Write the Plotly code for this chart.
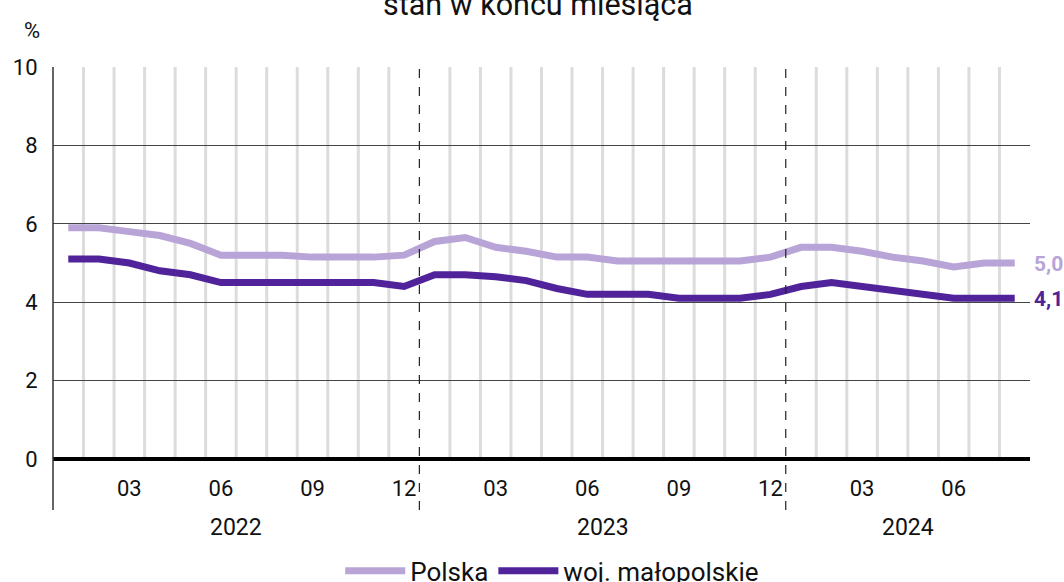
import plotly.graph_objects as go

months = ["2022-01","2022-02","2022-03","2022-04","2022-05","2022-06","2022-07","2022-08","2022-09","2022-10","2022-11","2022-12",
          "2023-01","2023-02","2023-03","2023-04","2023-05","2023-06","2023-07","2023-08","2023-09","2023-10","2023-11","2023-12",
          "2024-01","2024-02","2024-03","2024-04","2024-05","2024-06","2024-07","2024-08"]
polska = [5.9,5.9,5.8,5.7,5.5,5.2,5.2,5.2,5.15,5.15,5.15,5.2,
          5.55,5.65,5.4,5.3,5.15,5.15,5.05,5.05,5.05,5.05,5.05,5.15,
          5.4,5.4,5.3,5.15,5.05,4.9,5.0,5.0]
malopolskie = [5.1,5.1,5.0,4.8,4.7,4.5,4.5,4.5,4.5,4.5,4.5,4.4,
               4.7,4.7,4.65,4.55,4.35,4.2,4.2,4.2,4.1,4.1,4.1,4.2,
               4.4,4.5,4.4,4.3,4.2,4.1,4.1,4.1]
month_ticks = ["03","06","09","12"]
years = ["2022","2023","2024"]
end_labels = ["5,0","4,1"]
names = ["Polska","woj. małopolskie"]
title_text = "stan w końcu miesiąca"

C_LIGHT = "#b8a4d6"
C_DARK = "#50239a"
FONT = "Roboto"

idx = list(range(len(months)))

fig = go.Figure()
fig.add_trace(go.Scatter(x=idx, y=polska, mode="lines", name=names[0],
                         line=dict(color=C_LIGHT, width=7)))
fig.add_trace(go.Scatter(x=idx, y=malopolskie, mode="lines", name=names[1],
                         line=dict(color=C_DARK, width=7)))

tickvals, ticktext = [], []
for i, m in enumerate(months):
    mm = m[5:]
    if mm in month_ticks:
        tickvals.append(i)
        ticktext.append(mm)

shapes = []
for i in range(len(months) - 1):
    if months[i][:4] != months[i + 1][:4]:
        shapes.append(dict(type="line", xref="x", yref="paper", x0=i + 0.5, x1=i + 0.5,
                           y0=-0.13, y1=1, line=dict(color="#222", width=1.2, dash="dash"),
                           layer="above"))
    else:
        shapes.append(dict(type="line", xref="x", yref="y", x0=i + 0.5, x1=i + 0.5,
                           y0=0, y1=10, line=dict(color="#dcdcdc", width=3), layer="below"))
shapes.append(dict(type="line", xref="paper", yref="paper", x0=0, x1=0, y0=-0.13, y1=1,
                   line=dict(color="#333", width=1.5)))

annotations = []
for yr in years:
    ids = [i for i, m in enumerate(months) if m[:4] == yr]
    annotations.append(dict(x=(ids[0] + ids[-1]) / 2, xref="x", y=-0.176, yref="paper",
                            text=yr, showarrow=False, font=dict(size=23, color="#111", family=FONT),
                            xanchor="center", yanchor="middle"))
annotations.append(dict(x=-0.0215, xref="paper", y=1.094, yref="paper", text="%", showarrow=False,
                        font=dict(size=22, color="#111", family=FONT), xanchor="center", yanchor="middle"))
annotations.append(dict(x=0.496, xref="paper", y=1.110, yref="paper", text=title_text,
                        showarrow=False, font=dict(size=30.5, color="#111", family=FONT),
                        xanchor="center", yanchor="bottom"))
annotations.append(dict(x=idx[-1], y=polska[-1], xref="x", yref="y", text="<b>" + end_labels[0] + "</b>",
                        showarrow=False, xanchor="left", xshift=17, yshift=-1,
                        font=dict(size=21, color=C_LIGHT, family=FONT)))
annotations.append(dict(x=idx[-1], y=malopolskie[-1], xref="x", yref="y", text="<b>" + end_labels[1] + "</b>",
                        showarrow=False, xanchor="left", xshift=17, yshift=-1,
                        font=dict(size=21, color=C_DARK, family=FONT)))

fig.update_layout(
    width=1064, height=582,
    margin=dict(l=53, r=34, t=67, b=123, autoexpand=False),
    paper_bgcolor="white", plot_bgcolor="white",
    font=dict(family=FONT, size=22, color="#111"),
    showlegend=True,
    legend=dict(orientation="h", xref="container", yref="container",
                x=0.519, xanchor="center", y=0.019, yanchor="middle",
                font=dict(size=26, family=FONT, color="#111"), itemwidth=60,
                tracegroupgap=0, bgcolor="rgba(0,0,0,0)"),
    shapes=shapes,
    annotations=annotations,
    xaxis=dict(range=[-0.5, len(months) - 0.5], tickvals=tickvals, ticktext=ticktext,
               showgrid=False, zeroline=False, showline=False, automargin=False,
               ticks="outside", ticklen=10, tickcolor="rgba(0,0,0,0)",
               tickfont=dict(size=22, family=FONT, color="#111"), fixedrange=True),
    yaxis=dict(range=[0, 10], tickvals=[0, 2, 4, 6, 8, 10], showgrid=True, gridcolor="#444",
               gridwidth=1, zeroline=True, zerolinecolor="#000", zerolinewidth=3.5,
               showline=False, automargin=False, ticks="outside", ticklen=10, tickcolor="rgba(0,0,0,0)",
               tickfont=dict(size=22, family=FONT, color="#111"), fixedrange=True),
)

fig.write_html("out.html", config={"displayModeBar": False},
               post_script="document.body.style.margin='0';document.body.style.padding='0';")
